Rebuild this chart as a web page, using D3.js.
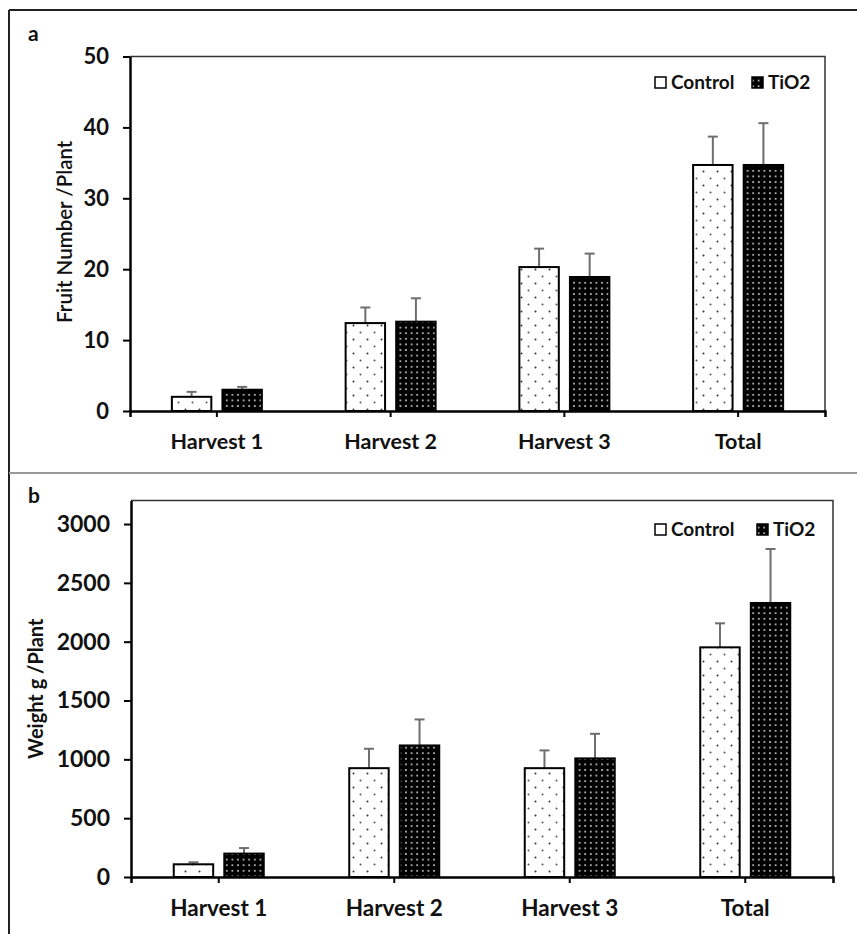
<!DOCTYPE html>
<html>
<head>
<meta charset="utf-8">
<script src="https://cdn.jsdelivr.net/npm/d3@7"></script>
<style>
  body { margin: 0; background: #fff; }
  svg { display: block; font-family: Lato, "Open Sans", sans-serif; }
</style>
</head>
<body>
<svg id="chart" width="857" height="934"></svg>
<script>
const categories = ["Harvest 1", "Harvest 2", "Harvest 3", "Total"];
const series = ["Control", "TiO2"];

// panel a: fruit number per plant
const fruitControl = [2.0, 12.4, 20.3, 34.7];
const fruitControlErr = [0.7, 2.2, 2.6, 4.0];
const fruitTiO2 = [3.0, 12.6, 18.9, 34.7];
const fruitTiO2Err = [0.4, 3.3, 3.3, 5.9];
const fruitTicks = [0, 10, 20, 30, 40, 50];

// panel b: weight g per plant
const weightControl = [108, 925, 925, 1952];
const weightControlErr = [17, 165, 151, 204];
const weightTiO2 = [199, 1118, 1008, 2329];
const weightTiO2Err = [47, 221, 209, 459];
const weightTicks = [0, 500, 1000, 1500, 2000, 2500, 3000];

let svg = d3.select("#chart");

// fill patterns
let defs = svg.append("defs");
let pc = defs.append("pattern").attr("id", "pat-control")
    .attr("patternUnits", "userSpaceOnUse").attr("width", 14).attr("height", 14);
pc.append("rect").attr("width", 14).attr("height", 14).attr("fill", "#fff");
pc.append("circle").attr("cx", 3.5).attr("cy", 3.5).attr("r", 1).attr("fill", "#333");
pc.append("circle").attr("cx", 10.5).attr("cy", 10.5).attr("r", 1).attr("fill", "#555");

let pt = defs.append("pattern").attr("id", "pat-tio2")
    .attr("patternUnits", "userSpaceOnUse").attr("width", 5.6).attr("height", 5.6);
pt.append("rect").attr("width", 5.6).attr("height", 5.6).attr("fill", "#000");
pt.append("circle").attr("cx", 2.8).attr("cy", 2.8).attr("r", 1).attr("fill", "#ccc");

let fills = {"Control": "url(#pat-control)", "TiO2": "url(#pat-tio2)"};

// outer frame
svg.append("line").attr("x1", 9).attr("x2", 857).attr("y1", 10).attr("y2", 10)
    .attr("stroke", "#222").attr("stroke-width", 2);
svg.append("line").attr("x1", 9).attr("x2", 9).attr("y1", 10).attr("y2", 934)
    .attr("stroke", "#222").attr("stroke-width", 2);
svg.append("line").attr("x1", 9).attr("x2", 857).attr("y1", 473).attr("y2", 473)
    .attr("stroke", "#999").attr("stroke-width", 2);

function drawPanel(opt){
    let g = svg.append("g");
    let x0 = d3.scaleBand().domain(categories).range([opt.left, opt.right]);
    let groupW = 90;
    let x1 = d3.scaleBand().domain(series).range([0, groupW]).paddingInner(0.22);
    let y = d3.scaleLinear().domain(opt.domain).range([opt.bottom, opt.top]);

    // plot box (top + right)
    g.append("path")
        .attr("d", `M${opt.left},${opt.top}H${opt.right}V${opt.bottom}`)
        .attr("fill", "none").attr("stroke", "#333").attr("stroke-width", 1.5);

    let rows = [];
    categories.forEach((c, i) => {
        rows.push({cat: c, s: "Control", v: opt.control[i], e: opt.controlErr[i]});
        rows.push({cat: c, s: "TiO2", v: opt.tio2[i], e: opt.tio2Err[i]});
    });
    let bx = d => x0(d.cat) + (x0.bandwidth() - groupW)/2 + x1(d.s);

    // error bars (upper only)
    let eb = g.selectAll(".err").data(rows).join("g").attr("class", "err")
        .attr("stroke", "#6e6e6e").attr("stroke-width", 2);
    eb.append("line")
        .attr("x1", d => bx(d) + x1.bandwidth()/2).attr("x2", d => bx(d) + x1.bandwidth()/2)
        .attr("y1", d => y(d.v)).attr("y2", d => y(d.v + d.e));
    eb.append("line")
        .attr("x1", d => bx(d) + x1.bandwidth()/2 - 5).attr("x2", d => bx(d) + x1.bandwidth()/2 + 5)
        .attr("y1", d => y(d.v + d.e)).attr("y2", d => y(d.v + d.e));

    g.selectAll(".bar").data(rows).join("rect").attr("class", "bar")
        .attr("x", d => bx(d))
        .attr("y", d => y(d.v))
        .attr("width", x1.bandwidth())
        .attr("height", d => y(0) - y(d.v))
        .attr("fill", d => fills[d.s])
        .attr("stroke", "#000").attr("stroke-width", 2);

    // y axis
    let ya = g.append("g").attr("transform", `translate(${opt.left},0)`)
        .call(d3.axisLeft(y).tickValues(opt.ticks).tickFormat(d3.format("d"))
            .tickSize(7).tickPadding(14).tickSizeOuter(0));
    ya.select(".domain").attr("stroke", "#000").attr("stroke-width", 2.5);
    ya.selectAll(".tick line").attr("stroke", "#000").attr("stroke-width", 2);
    ya.selectAll("text").attr("font-size", opt.fs).attr("font-weight", "bold").attr("fill", "#111")
        .attr("font-family", "Lato");

    // x axis, ticks at category centres
    let xa = g.append("g").attr("transform", `translate(0,${opt.bottom})`)
        .call(d3.axisBottom(x0).tickSize(6).tickPadding(17).tickSizeOuter(6));
    xa.select(".domain").attr("stroke", "#000").attr("stroke-width", 2.5);
    xa.selectAll(".tick line").attr("stroke", "#000").attr("stroke-width", 2);
    xa.selectAll("text").attr("font-size", opt.catFs).attr("font-weight", "bold").attr("fill", "#111")
        .attr("font-family", "Lato");

    // axis title
    g.append("text")
        .attr("transform", `translate(${opt.titleX},${(opt.top + opt.bottom)/2 + opt.titleDy}) rotate(-90)`)
        .attr("text-anchor", "middle")
        .attr("font-size", opt.titleFs).attr("font-weight", opt.titleWeight).attr("fill", "#111")
        .text(opt.title);

    // panel letter
    g.append("text").attr("x", 28).attr("y", opt.letterY)
        .attr("font-size", 21).attr("font-weight", "bold").attr("fill", "#111")
        .text(opt.letter);

    // legend
    let lg = g.append("g").attr("transform", `translate(${opt.legendX},${opt.legendY})`);
    let items = [{s: "Control", dx: 0}, {s: "TiO2", dx: opt.legendGap}];
    items.forEach(it => {
        lg.append("rect").attr("x", it.dx).attr("y", -12).attr("width", 11).attr("height", 11)
            .attr("fill", it.s == "Control" ? "#fff" : fills[it.s])
            .attr("stroke", "#000").attr("stroke-width", 1.5);
        lg.append("text").attr("x", it.dx + 16).attr("y", 0)
            .attr("font-size", 19).attr("font-weight", "bold").attr("fill", "#111")
            .text(it.s);
    });
}

drawPanel({
    left: 130, right: 825, top: 56.5, bottom: 411,
    domain: [0, 50], ticks: fruitTicks,
    control: fruitControl, controlErr: fruitControlErr,
    tio2: fruitTiO2, tio2Err: fruitTiO2Err,
    fs: 22, catFs: 21.5,
    title: "Fruit Number /Plant", titleX: 72, titleDy: -2, titleFs: 20.5, titleWeight: 600,
    letter: "a", letterY: 41,
    legendX: 655, legendY: 89, legendGap: 97
});

drawPanel({
    left: 131, right: 833, top: 500.5, bottom: 877,
    domain: [0, 3200], ticks: weightTicks,
    control: weightControl, controlErr: weightControlErr,
    tio2: weightTiO2, tio2Err: weightTiO2Err,
    fs: 23, catFs: 22.5,
    title: "Weight g /Plant", titleX: 43, titleDy: 0, titleFs: 20, titleWeight: "bold",
    letter: "b", letterY: 503,
    legendX: 655, legendY: 536, legendGap: 102
});
</script>
</body>
</html>
